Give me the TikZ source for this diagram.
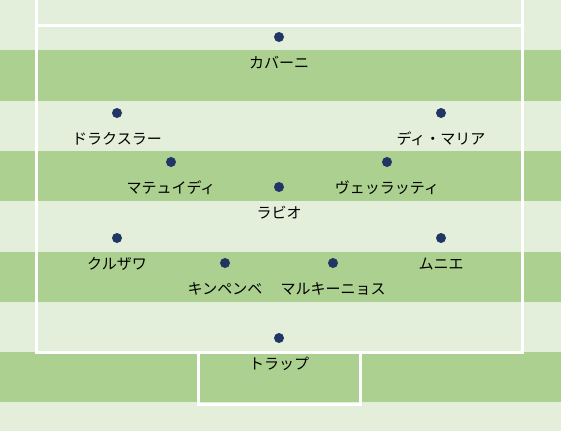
\documentclass[tikz,border=0pt]{standalone}
\usepackage{fontspec}
\newfontfamily\cjk{Noto Sans CJK JP}
\definecolor{lightg}{RGB}{227,238,219}
\definecolor{darkg}{RGB}{171,208,143}
\definecolor{dotc}{RGB}{32,54,100}
\begin{document}
\begin{tikzpicture}[x=1pt,y=-1pt,
  line/.style={draw=white,line width=3pt},
  player/.style={circle,fill=dotc,inner sep=0pt,minimum size=10pt},
  lbl/.style={font=\cjk\fontsize{15}{17}\selectfont,text=black,inner sep=0pt}]
\useasboundingbox (0,0) rectangle (561,431);
\fill[lightg] (0,0) rectangle (561,431);
\foreach \i in {1,3,5,7} {
  \fill[darkg] (0,{\i*50.3}) rectangle (561,{(\i+1)*50.3});
}
% pitch lines
\draw[line] (36.5,0) -- (36.5,352) -- (522.5,352) -- (522.5,0);
\draw[line] (36.5,25.5) -- (522.5,25.5);
\draw[line] (198.5,352) -- (198.5,404) -- (360.5,404) -- (360.5,352);
% players
\foreach \n/\x/\y/\t in {
  cav/279/37/カバーニ,
  dra/117/113/ドラクスラー,
  dim/441/113/ディ・マリア,
  mat/171/162/マテュイディ,
  ver/387/162/ヴェッラッティ,
  rab/279/187/ラビオ,
  kur/117/238/クルザワ,
  mun/441/238/ムニエ,
  kim/225/263/キンペンベ,
  mar/333/263/マルキーニョス,
  tra/279/338/トラップ} {
  \node[player] (\n) at (\x,\y) {};
  \node[lbl] (\n-l) at (\x,\y+26) {\t};
}
\end{tikzpicture}
\end{document}
